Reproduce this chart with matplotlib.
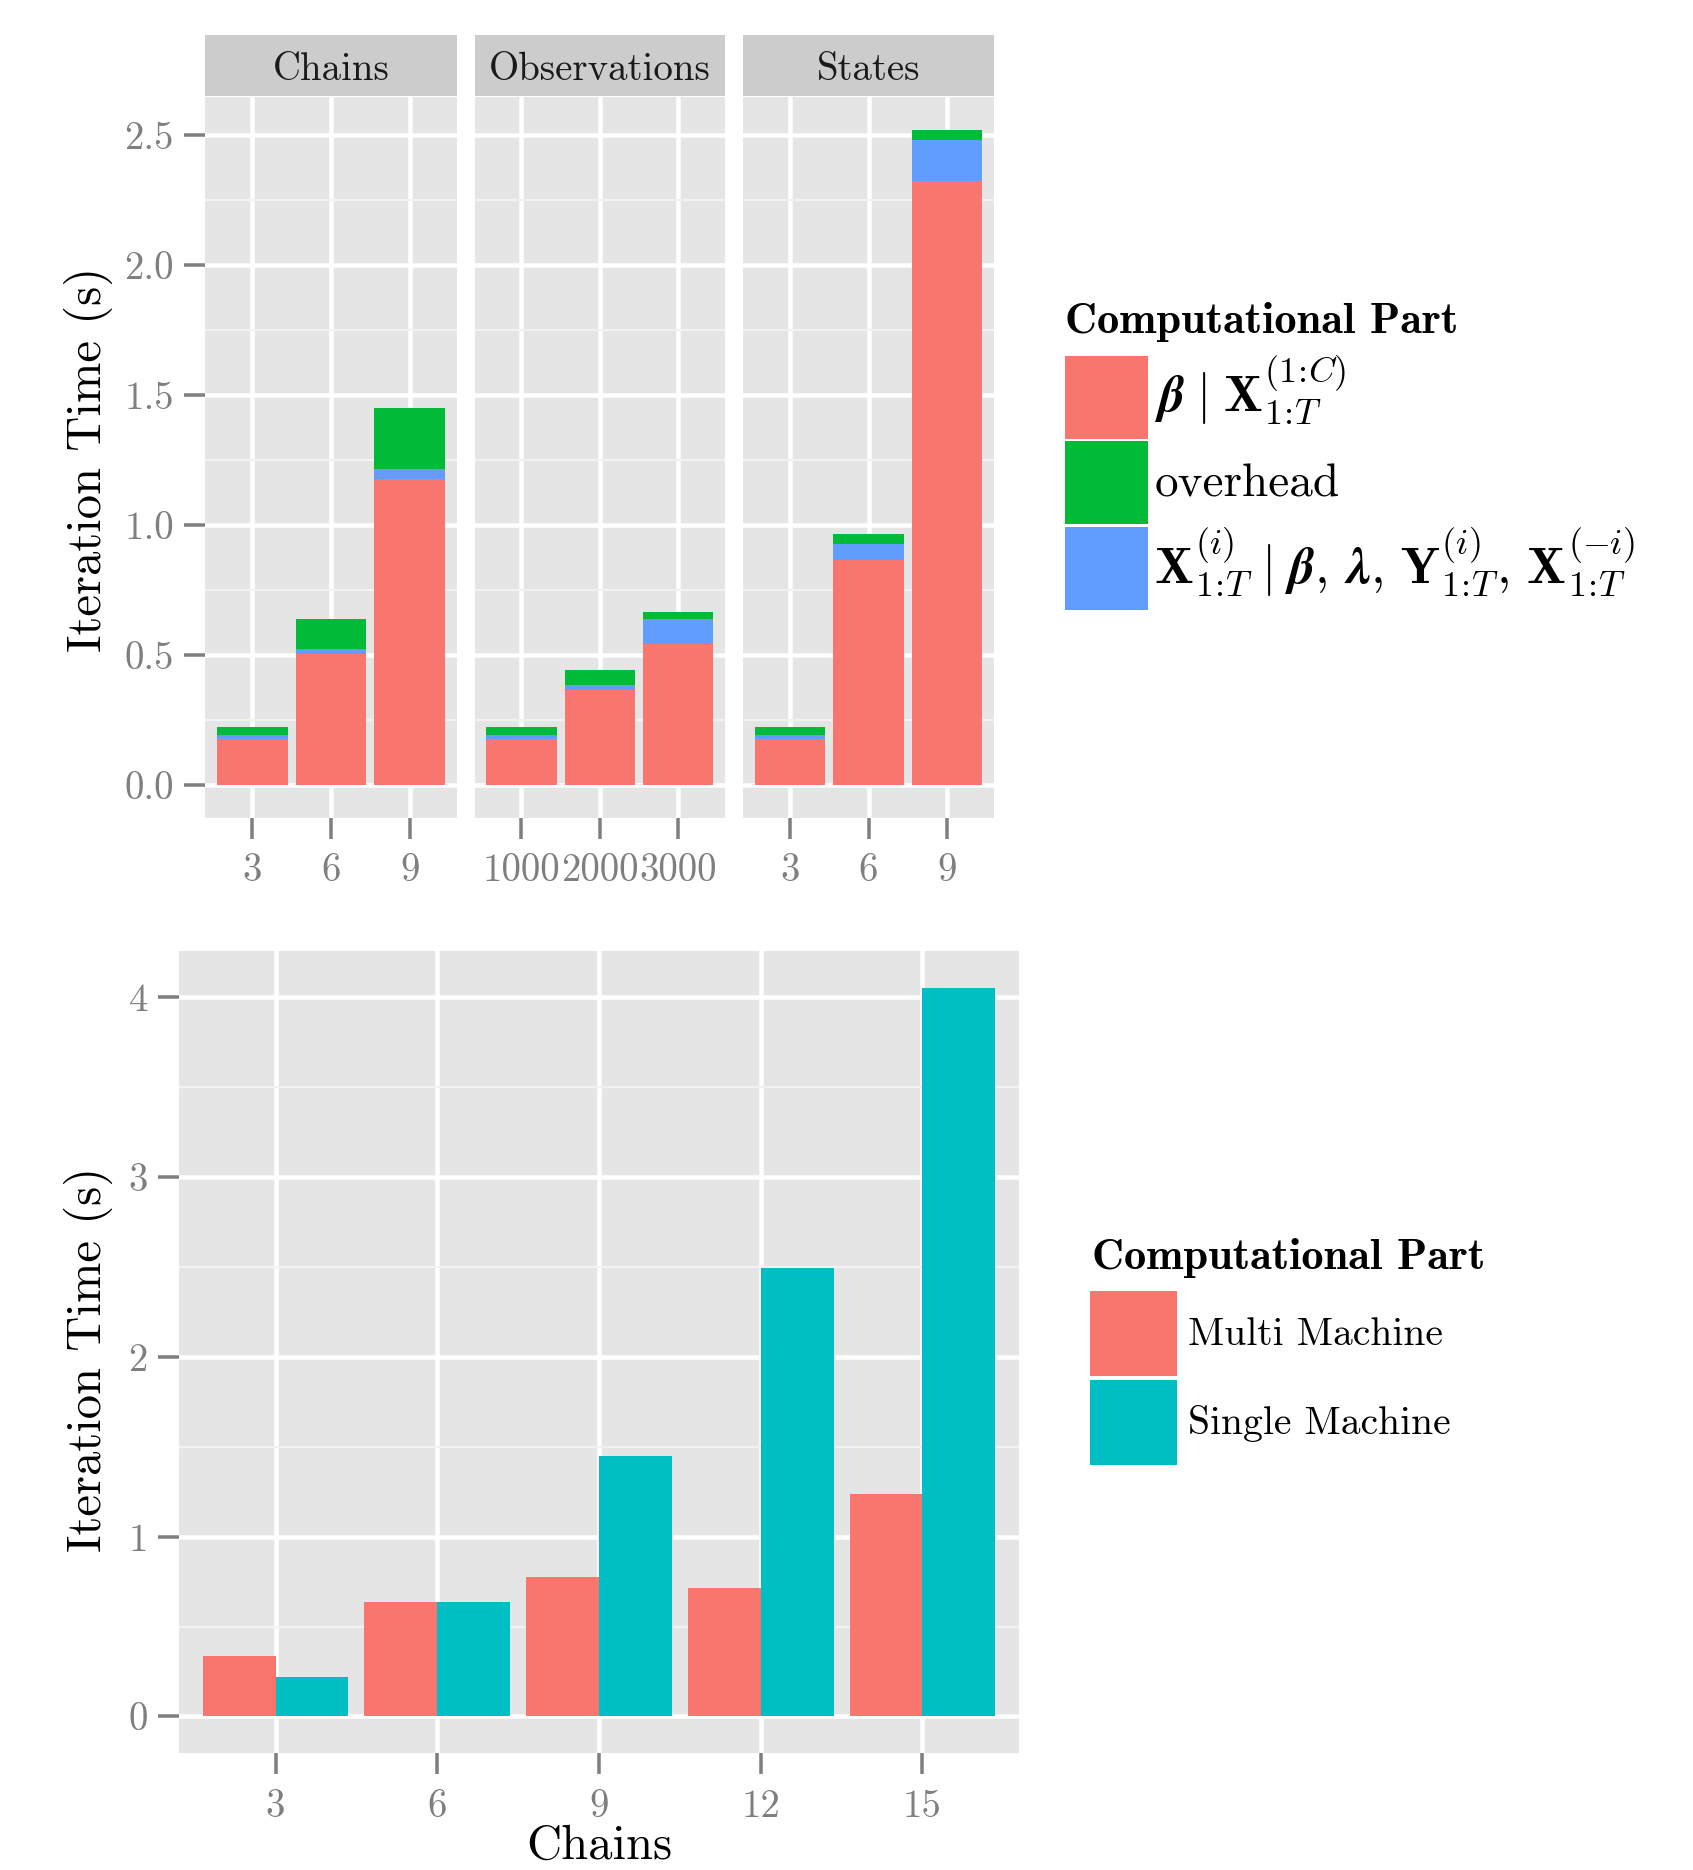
import numpy as np
import matplotlib
matplotlib.use("Agg")
import matplotlib.pyplot as plt
from matplotlib.patches import Patch
from matplotlib.ticker import MultipleLocator

plt.rcParams.update({
    "font.family": "cmr10",
    "mathtext.fontset": "cm",
    "axes.unicode_minus": False,
    "axes.formatter.use_mathtext": True,
})

# ---------------- data ----------------
facet_names = ["Chains", "Observations", "States"]
facet_levels = [["3", "6", "9"], ["1000", "2000", "3000"], ["3", "6", "9"]]
beta_part = [[0.179, 0.504, 1.177], [0.179, 0.365, 0.545], [0.179, 0.867, 2.326]]
x_part = [[0.014, 0.022, 0.041], [0.014, 0.022, 0.093], [0.014, 0.061, 0.157]]
overhead_part = [[0.031, 0.112, 0.232], [0.031, 0.058, 0.027], [0.031, 0.038, 0.039]]
top_yticks = [0.0, 0.5, 1.0, 1.5, 2.0, 2.5]

chains = [3, 6, 9, 12, 15]
multi_machine = [0.338, 0.639, 0.778, 0.713, 1.236]
single_machine = [0.222, 0.634, 1.446, 2.494, 4.054]
bottom_yticks = [0, 1, 2, 3, 4]

legend_title = "Computational Part"
part_labels = [r"$\mathbfit{\beta}\;|\;\mathbf{X}_{1\!:\!T}^{(1\!:\!C)}$",
               "overhead",
               r"$\mathbf{X}_{1\!:\!T}^{(i)}\;|\;\mathbfit{\beta},\,\mathbfit{\lambda},\,"
               r"\mathbf{Y}_{1\!:\!T}^{(i)},\,\mathbf{X}_{1\!:\!T}^{(-i)}$"]
machine_labels = ["Multi Machine", "Single Machine"]

RED, GREEN, BLUE, TEAL = "#F8766D", "#00BA38", "#619CFF", "#00BFC4"

# ---------------- figure ----------------
W, H, DPI = 1693, 1870, 100
fig = plt.figure(figsize=(W / DPI, H / DPI), dpi=DPI)
PT = 72 / DPI

def add_px(x0, y0, x1, y1):
    return fig.add_axes([x0 / W, 1 - y1 / H, (x1 - x0) / W, (y1 - y0) / H])

TICKC = "#7F7F7F"

def style(ax):
    ax.set_facecolor("#E5E5E5")
    for s in ax.spines.values():
        s.set_visible(False)
    ax.set_axisbelow(True)
    ax.grid(which="major", color="white", linewidth=4.5 * PT)
    ax.grid(which="minor", axis="y", color="#F2F2F2", linewidth=2.2 * PT)
    ax.tick_params(which="major", length=21 * PT, width=3.5 * PT, color=TICKC,
                   labelcolor=TICKC, labelsize=28, pad=14 * PT)
    ax.tick_params(which="minor", length=0)

panel_x = [(205, 457), (474.5, 725), (743, 994)]
for i in range(3):
    x0, x1 = panel_x[i]
    ax = add_px(x0, 97, x1, 818)
    style(ax)
    pos = np.arange(1, 4)
    b = np.array(beta_part[i])
    xp = np.array(x_part[i])
    oh = np.array(overhead_part[i])
    ax.bar(pos, b, width=0.9, color=RED, linewidth=0)
    ax.bar(pos, xp, bottom=b, width=0.9, color=BLUE, linewidth=0)
    ax.bar(pos, oh, bottom=b + xp, width=0.9, color=GREEN, linewidth=0)
    ax.set_xlim(0.4, 3.6)
    ax.set_ylim(-0.126, 2.648)
    ax.set_xticks(pos)
    ax.set_xticklabels(facet_levels[i])
    ax.set_yticks(top_yticks)
    ax.yaxis.set_minor_locator(MultipleLocator(0.25))
    if i == 0:
        ax.set_yticklabels([f"{v:.1f}" for v in top_yticks])
        ax.tick_params(axis="y", pad=10 * PT)
    else:
        ax.tick_params(axis="y", length=0, labelleft=False)
    sax = add_px(x0, 35, x1, 96)
    sax.set_facecolor("#CCCCCC")
    sax.set_xticks([]); sax.set_yticks([])
    for s in sax.spines.values():
        s.set_visible(False)
    sax.text(0.5, 0.42, facet_names[i], ha="center", va="center", fontsize=28,
             transform=sax.transAxes, color="#1A1A1A")

fig.text(88 / W, 1 - 459 / H, "Iteration Time (s)", rotation=90,
         ha="center", va="center", fontsize=35)

# top legend
fig.text(1065 / W, 1 - 322 / H, legend_title, family="cmb10", fontsize=32,
         ha="left", va="center")
leg1 = fig.legend(handles=[Patch(color=RED, linewidth=0), Patch(color=GREEN, linewidth=0),
                           Patch(color=BLUE, linewidth=0)],
                  labels=part_labels, loc="upper left",
                  bbox_to_anchor=(1065 / W, 1 - 354 / H), frameon=False,
                  fontsize=34, handlelength=1.76, handleheight=2.33,
                  labelspacing=0.03, handletextpad=0.13, borderpad=0,
                  borderaxespad=0)
for t in (leg1.get_texts()[0], leg1.get_texts()[2]):
    t.set_fontsize(37)

# ---------------- bottom chart ----------------
ax2 = add_px(179, 951, 1019, 1753)
style(ax2)
c = np.array(chains, dtype=float)
ax2.bar(c - 0.675, multi_machine, width=1.35, color=RED, linewidth=0)
ax2.bar(c + 0.675, single_machine, width=1.35, color=TEAL, linewidth=0)
ax2.set_xlim(1.21, 16.79)
ax2.set_ylim(-0.203, 4.257)
ax2.set_xticks(chains)
ax2.set_xticklabels([str(v) for v in chains])
ax2.set_yticks(bottom_yticks)
ax2.set_yticklabels([str(v) for v in bottom_yticks])
ax2.yaxis.set_minor_locator(MultipleLocator(0.5))
ax2.tick_params(axis="x", pad=15 * PT)
ax2.tick_params(axis="y", pad=10 * PT)

fig.text(88 / W, 1 - 1359 / H, "Iteration Time (s)", rotation=90,
         ha="center", va="center", fontsize=35)
fig.text(599 / W, 1 - 1847 / H, "Chains", ha="center", va="center", fontsize=35)

# bottom legend
fig.text(1092 / W, 1 - 1258 / H, legend_title, family="cmb10", fontsize=32,
         ha="left", va="center")
fig.legend(handles=[Patch(color=RED, linewidth=0), Patch(color=TEAL, linewidth=0)],
           labels=machine_labels, loc="upper left",
           bbox_to_anchor=(1090 / W, 1 - 1291 / H), frameon=False,
           fontsize=28.5, handlelength=2.2, handleheight=2.93,
           labelspacing=0.09, handletextpad=0.28, borderpad=0,
           borderaxespad=0)

fig.savefig("out.png", dpi=DPI)
